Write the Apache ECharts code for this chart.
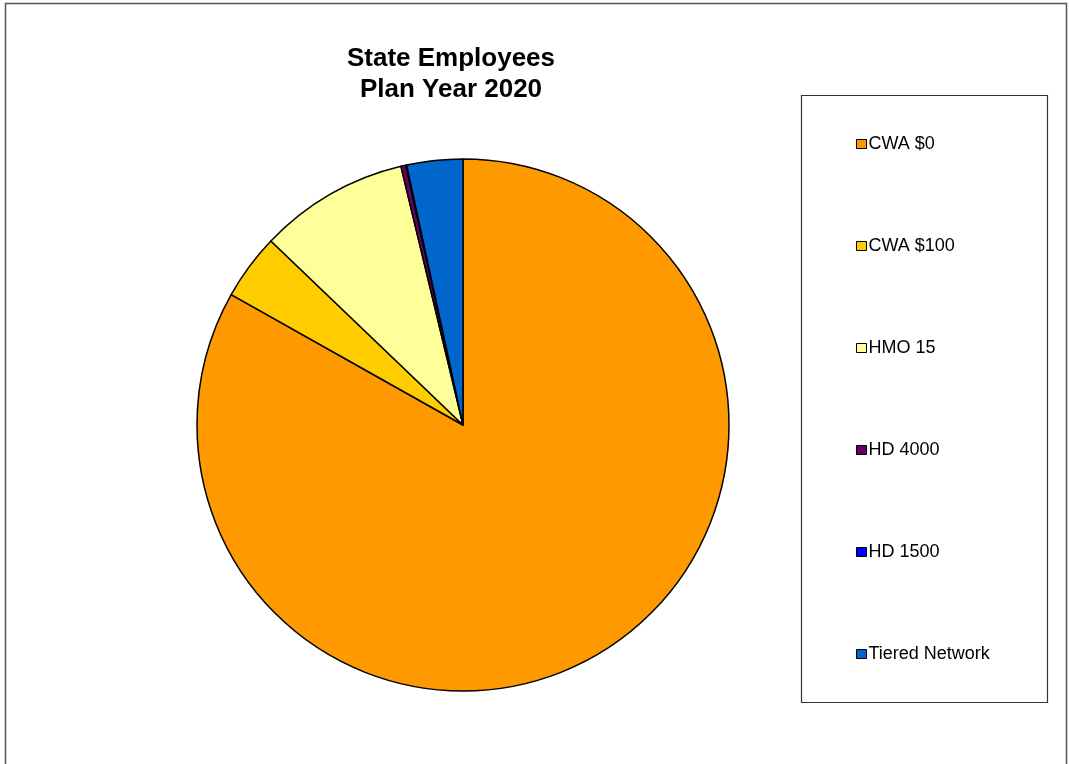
<!DOCTYPE html>
<html>
<head>
<meta charset="utf-8">
<script src="https://cdn.jsdelivr.net/npm/echarts@6/dist/echarts.min.js"></script>
<style>
html,body{margin:0;padding:0;background:#fff;}
#chart{width:1069px;height:764px;}
</style>
</head>
<body>
<div id="chart"></div>
<script>
const categories = ['CWA $0', 'CWA $100', 'HMO 15', 'HD 4000', 'HD 1500', 'Tiered Network'];
const values = [83.2, 4.0, 9.1, 0.3, 0.05, 3.4];
const colors = ['#FF9900', '#FFCC00', '#FFFF99', '#660066', '#0000FF', '#0066CC'];
const titleLines = ['State Employees', 'Plan Year 2020'];

const chart = echarts.init(document.getElementById('chart'));
chart.setOption({
  animation: false,
  backgroundColor: '#fff',
  title: {
    text: titleLines.join('\n'),
    left: 446,
    top: 38,
    textAlign: 'center',
    textStyle: {
      fontFamily: 'Liberation Sans, Arial, sans-serif',
      fontWeight: 'bold',
      fontSize: 26,
      lineHeight: 31,
      color: '#000'
    }
  },
  graphic: [
    { type: 'rect', shape: { x: 5.5, y: 3.5, width: 1061, height: 800 }, style: { fill: 'none', stroke: '#555', lineWidth: 1.5 }, z: -1 },
    { type: 'rect', shape: { x: 801.5, y: 95.5, width: 246, height: 607 }, style: { fill: '#fff', stroke: '#333', lineWidth: 1.2 }, z: -1 }
  ],
  legend: {
    orient: 'vertical',
    left: 851,
    top: 129,
    itemWidth: 10,
    itemHeight: 9,
    itemGap: 82,
    icon: 'rect',
    data: categories,
    itemStyle: { borderColor: '#000', borderWidth: 1 },
    textStyle: {
      fontFamily: 'Liberation Sans, Arial, sans-serif',
      fontSize: 18,
      lineHeight: 20,
      color: '#000',
      padding: [0, 0, 0, -3]
    }
  },
  series: [{
    type: 'pie',
    center: [463, 425],
    radius: 266,
    startAngle: 90,
    clockwise: true,
    label: { show: false },
    labelLine: { show: false },
    emphasis: { disabled: true },
    itemStyle: { borderColor: '#000', borderWidth: 1.5 },
    data: categories.map((c, i) => ({ name: c, value: values[i], itemStyle: { color: colors[i] } }))
  }]
});
</script>
</body>
</html>
